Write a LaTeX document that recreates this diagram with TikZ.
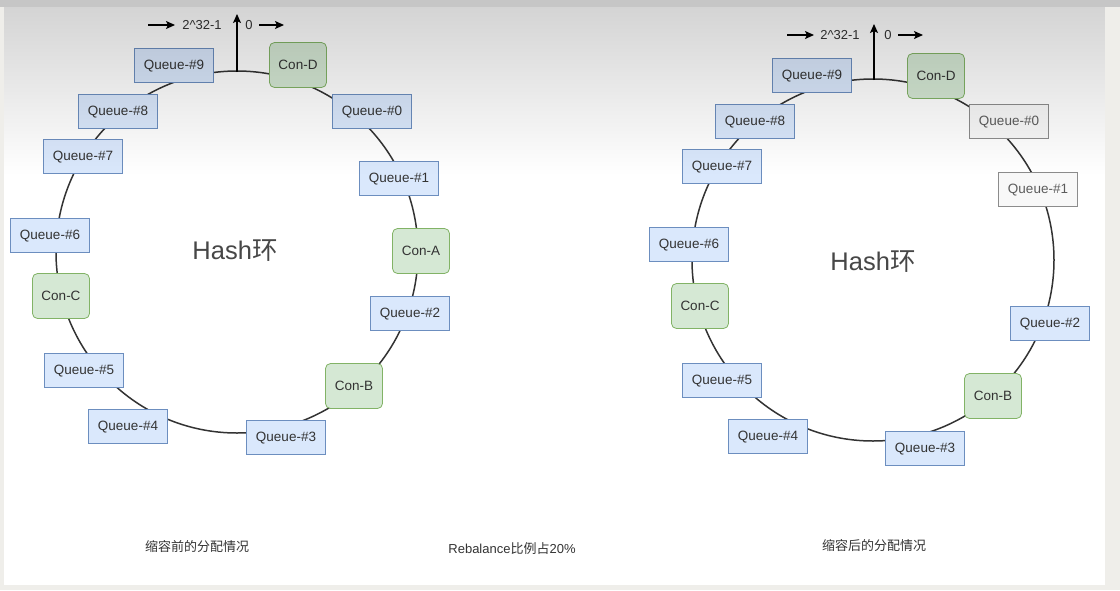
\documentclass[tikz,border=0pt]{standalone}
\usepackage{fontspec}
\setmainfont{Liberation Sans}
\newfontfamily\cjk{Noto Sans CJK SC}
\usetikzlibrary{arrows,arrows.meta,fadings}
\definecolor{qfill}{HTML}{DAE8FC}
\definecolor{qline}{HTML}{6C8EBF}
\definecolor{cfill}{HTML}{D5E8D4}
\definecolor{cline}{HTML}{82B366}
\definecolor{ofill}{HTML}{F8F8F8}
\definecolor{oline}{HTML}{8C8C8C}
\definecolor{ink}{HTML}{333333}
\definecolor{frame}{HTML}{EFEEEA}
\tikzset{every picture/.style={/utils/exec={\fontsize{13}{15}\selectfont}}}

\begin{document}
\begin{tikzpicture}[x=1pt,y=-1pt,
    queue/.style={draw=qline,fill=qfill,text=ink,minimum width=79pt,minimum height=34pt,inner sep=0pt,line width=0.8pt,
        font=\fontsize{13.5}{15}\selectfont,text height=9.5pt,text depth=1pt},
    oldqueue/.style={queue,draw=oline,fill=ofill,text=ink!80},
    con/.style={draw=cline,fill=cfill,text=ink,rounded corners=5pt,minimum width=57pt,minimum height=45pt,inner sep=0pt,line width=0.8pt,
        font=\fontsize{13.5}{15}\selectfont,text height=9.5pt,text depth=1pt},
    ring/.style={draw=ink,line width=1.5pt},
    pointer/.style={-{Stealth[length=9pt,width=8pt,inset=2pt]},draw=black,line width=1.4pt},
    note/.style={text=ink,font=\fontsize{13}{15}\selectfont,inner sep=1pt},
    title/.style={text=ink!90,font=\fontsize{25.5}{30}\selectfont}]
    \useasboundingbox (0,0) rectangle (1120,590);
    % screen frame
    \fill [frame] (0,0) rectangle (1120,590);
    \fill [white] (4,7) rectangle (1105,585);
    \fill [gray!45] (0,0) rectangle (1120,7);

    % ring before
    \coordinate (lc) at (237,252);
    \draw [ring] (lc) circle (181);
    \coordinate (ltop) at (237,72);
    \coordinate (lup) at (237,14);
    \draw [pointer] (ltop) -- (lup);
    \coordinate (la1) at (148,25);
    \coordinate (la2) at (175,25);
    \draw [pointer] (la1) -- (la2);
    \node [note] (lmax) at (202,25) {2\^{}32-1};
    \node [note] (lzero) at (249,25) {0};
    \coordinate (la3) at (259,25);
    \coordinate (la4) at (284,25);
    \draw [pointer] (la3) -- (la4);

    \node [queue] (lq9) at (174,65) {Queue-\#9};
    \node [con] (lcd) at (298,65) {Con-D};
    \node [queue] (lq0) at (372,111) {Queue-\#0};
    \node [queue] (lq1) at (399,178) {Queue-\#1};
    \node [con] (lca) at (421,251) {Con-A};
    \node [queue] (lq2) at (410,313) {Queue-\#2};
    \node [con] (lcb) at (354,386) {Con-B};
    \node [queue] (lq3) at (286,437) {Queue-\#3};
    \node [queue] (lq4) at (128,426) {Queue-\#4};
    \node [queue] (lq5) at (84,370) {Queue-\#5};
    \node [con] (lcc) at (61,296) {Con-C};
    \node [queue] (lq6) at (50,235) {Queue-\#6};
    \node [queue] (lq7) at (83,156) {Queue-\#7};
    \node [queue] (lq8) at (118,111) {Queue-\#8};
    \node [title] (lhash) at (235,251) {Hash{\cjk 环}};

    % ring after
    \coordinate (rc) at (873,260);
    \draw [ring] (rc) circle (181);
    \coordinate (rtop) at (874,80);
    \coordinate (rup) at (874,24);
    \draw [pointer] (rtop) -- (rup);
    \coordinate (ra1) at (787,35);
    \coordinate (ra2) at (814,35);
    \draw [pointer] (ra1) -- (ra2);
    \node [note] (rmax) at (840,35) {2\^{}32-1};
    \node [note] (rzero) at (888,35) {0};
    \coordinate (ra3) at (898,35);
    \coordinate (ra4) at (923,35);
    \draw [pointer] (ra3) -- (ra4);

    \node [queue] (rq9) at (812,75) {Queue-\#9};
    \node [con] (rcd) at (936,76) {Con-D};
    \node [oldqueue] (rq0) at (1009,121) {Queue-\#0};
    \node [oldqueue] (rq1) at (1038,189) {Queue-\#1};
    \node [queue] (rq2) at (1050,323) {Queue-\#2};
    \node [con] (rcb) at (993,396) {Con-B};
    \node [queue] (rq3) at (925,448) {Queue-\#3};
    \node [queue] (rq4) at (768,436) {Queue-\#4};
    \node [queue] (rq5) at (722,380) {Queue-\#5};
    \node [con] (rcc) at (700,306) {Con-C};
    \node [queue] (rq6) at (689,244) {Queue-\#6};
    \node [queue] (rq7) at (722,166) {Queue-\#7};
    \node [queue] (rq8) at (755,121) {Queue-\#8};
    \node [title] (rhash) at (873,262) {Hash{\cjk 环}};

    % captions
    \node [note] (lcap) at (197,547) {\cjk 缩容前的分配情况};
    \node [note] (mcap) at (512,549) {Rebalance{\cjk 比例占}20\%};
    \node [note] (rcap) at (874,546) {\cjk 缩容后的分配情况};

    % screen shade at the top
    \fill [black,opacity=0.17,path fading=south] (4,7) rectangle (1105,175);
\end{tikzpicture}
\end{document}
